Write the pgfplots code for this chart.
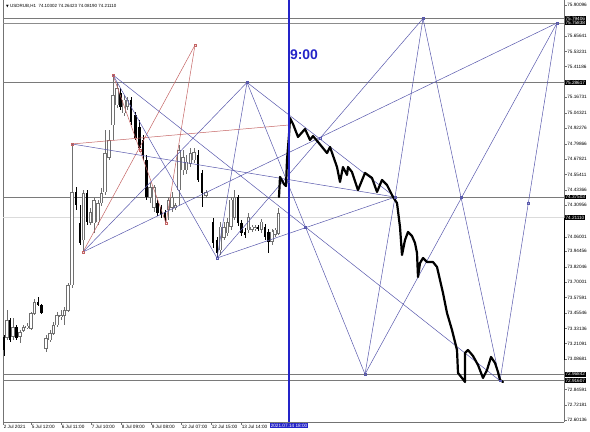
\documentclass[border=0pt]{standalone}
\usepackage{fontspec}
\setmainfont{Liberation Sans}
\newfontfamily\djv{DejaVu Sans}
\usepackage{pgfplots}
\usepackage{pgfplotstable}
\pgfplotsset{compat=1.18}
\definecolor{patblue}{HTML}{5858AC}
\definecolor{patred}{HTML}{C46464}
\definecolor{vblue}{HTML}{2424C8}
\definecolor{hgray}{HTML}{7A7A7A}
\definecolor{cgray}{HTML}{707070}
\newcommand\tl{\fontsize{4.7}{5}\selectfont}

% hourly candles: x (chart position), open, high, low, close
\pgfplotstableread{
x o h l c
7 73.264 73.478 73.240 73.399
13 73.264 73.415 73.240 73.343
20 73.264 73.319 73.216 73.303
23.5 73.319 73.359 73.303 73.343
27 73.335 73.375 73.327 73.351
31 73.335 73.462 73.319 73.454
34.5 73.454 73.566 73.438 73.542
46 73.176 73.280 73.144 73.256
50 73.240 73.319 73.224 73.295
53.5 73.295 73.383 73.280 73.359
57 73.359 73.462 73.343 73.438
61 73.423 73.478 73.399 73.438
64.5 73.438 73.502 73.359 73.478
68 73.478 73.693 73.462 73.677
72 73.677 74.797 73.653 74.415
83.5 74.034 74.431 73.939 74.407
90.5 74.177 74.289 74.154 74.257
94 74.169 74.368 74.090 74.352
98 74.177 74.352 74.154 74.328
101.5 74.328 74.447 74.304 74.407
105 74.415 74.908 74.391 74.725
109 74.694 74.908 74.670 74.829
113 74.948 75.345 74.829 75.186
117 75.107 75.289 75.083 75.242
124 75.043 75.186 75.019 75.147
127.5 75.091 75.170 75.067 75.147
150 74.376 74.487 74.328 74.455
154 74.296 74.471 74.257 74.455
168.5 74.273 74.376 74.193 74.352
172 74.289 74.415 74.257 74.376
175.5 74.289 74.328 74.273 74.312
179 74.431 74.789 74.312 74.749
183 74.590 74.749 74.550 74.693
186.5 74.590 74.709 74.558 74.654
190.5 74.646 74.765 74.614 74.725
194 74.670 74.765 74.646 74.733
206 74.391 74.431 74.368 74.415
220.5 73.955 74.177 73.915 74.138
224 74.058 74.177 74.034 74.138
227.5 74.090 74.209 74.066 74.177
231 74.138 74.376 74.114 74.352
234.5 74.217 74.431 74.193 74.376
248.5 74.114 74.249 74.090 74.217
252 74.114 74.154 74.098 74.138
255 74.122 74.154 74.106 74.138
261.5 74.114 74.201 74.090 74.177
272 74.019 74.122 73.995 74.098
275 74.074 74.130 74.058 74.114
278.5 74.090 74.288 74.074 74.249
}\bull
\pgfplotstableread{
x o h l c
4 73.264 73.280 73.112 73.160
10 73.399 73.415 73.224 73.240
16.5 73.343 73.359 73.240 73.256
38 73.542 73.582 73.510 73.518
41.5 73.518 73.526 73.446 73.454
76 74.415 74.455 74.273 74.312
80 74.169 74.312 73.995 74.010
87 74.407 74.431 74.154 74.177
120.5 75.202 75.242 75.067 75.091
131 75.147 75.170 74.948 74.972
135.5 75.027 75.051 74.829 74.845
139.5 74.932 74.988 74.733 74.765
143 74.829 74.868 74.670 74.709
146.5 74.670 74.709 74.352 74.376
157.5 74.328 74.352 74.225 74.249
161 74.296 74.312 74.209 74.233
165 74.257 74.273 74.169 74.209
198 74.709 74.749 74.495 74.511
202 74.566 74.590 74.296 74.407
213 74.177 74.209 73.971 74.010
217 74.034 74.058 73.891 73.931
238 74.376 74.391 74.146 74.169
241.5 74.169 74.193 74.066 74.090
245 74.098 74.130 74.050 74.074
258 74.138 74.154 74.106 74.122
265 74.138 74.161 74.034 74.058
268.5 74.098 74.122 73.931 74.019
}\bear

\pgfplotsset{
  pb/.style={patblue, line width=0.5bp, forget plot},
  pr/.style={patred, line width=0.5bp, forget plot},
  hl/.style={hgray, line width=0.6bp, forget plot},
  candle/.style={draw=none, mark=none, forget plot,
    error bars/.cd, y dir=both, y explicit, error mark=none, error bar style={#1}},
}
\tikzset{hi/.style={fill=black, text=white, font=\tl, inner sep=0.7bp, anchor=west, xshift=0.6bp}}

\begin{document}
\begin{tikzpicture}
\useasboundingbox (-3bp,-10bp) rectangle (587bp,422bp);
\begin{axis}[at={(0,0)}, anchor=south west, scale only axis,
  width=561bp, height=422bp,
  xmin=3, xmax=564, ymin=72.5882, ymax=75.941,
  axis x line*=bottom, axis y line*=right,
  axis line style={-, black!55, line width=0.5bp},
  tick style={black!55, line width=0.4bp}, major tick length=2.5bp, tick align=outside,
  xtick={3,31,61,91,121,151,181,211,241},
  xticklabels={2 Jul 2021,5 Jul 12:00,6 Jul 11:00,7 Jul 10:00,8 Jul 09:00,9 Jul 08:00,12 Jul 07:00,12 Jul 15:00,13 Jul 14:00},
  xticklabel style={font=\tl, anchor=north west, inner sep=0.6bp},
  ytick={75.90096,75.65641,75.53231,75.41186,75.16731,75.04321,74.92276,74.79866,74.67821,74.55411,74.43366,74.30956,74.06001,73.94456,73.82046,73.70001,73.57591,73.45546,73.33136,73.21091,73.08681,72.84591,72.72181,72.60136},
  yticklabels={75.90096,75.65641,75.53231,75.41186,75.16731,75.04321,74.92276,74.79866,74.67821,74.55411,74.43366,74.30956,74.06001,73.94456,73.82046,73.70001,73.57591,73.45546,73.33136,73.21091,73.08681,72.84591,72.72181,72.60136},
  yticklabel style={font=\tl, anchor=west, inner sep=0.6bp},
  clip=false]

\draw[black!55, line width=0.5bp] (rel axis cs:0,0) -- (rel axis cs:0,1);

% horizontal levels
\addplot[hl] coordinates {(3,75.79406)(564,75.79406)};
\addplot[black!45, line width=0.9bp, forget plot] coordinates {(3,75.75838)(564,75.75838)};
\addplot[hl] coordinates {(3,75.28617)(564,75.28617)};
\addplot[hl] coordinates {(3,74.37503)(564,74.37503)};
\addplot[black!14, line width=0.6bp, forget plot] coordinates {(3,74.21110)(564,74.21110)};
\addplot[hl] coordinates {(3,72.96842)(564,72.96842)};
\addplot[hl] coordinates {(3,72.91607)(564,72.91607)};

% wicks
\addplot[candle={draw=cgray, line width=0.6bp}]
  table[x=x, y expr={(\thisrow{h}+\thisrow{l})/2}, y error expr={(\thisrow{h}-\thisrow{l})/2}] {\bull};
\addplot[candle={draw=black, line width=0.6bp}]
  table[x=x, y expr={(\thisrow{h}+\thisrow{l})/2}, y error expr={(\thisrow{h}-\thisrow{l})/2}] {\bear};
% bodies
\addplot[candle={draw=cgray, line width=3.1bp}]
  table[x=x, y expr={(\thisrow{o}+\thisrow{c})/2}, y error expr={(\thisrow{c}-\thisrow{o})/2+0.003}] {\bull};
\addplot[candle={draw=white, line width=1.4bp}]
  table[x=x, y expr={(\thisrow{o}+\thisrow{c})/2}, y error expr={(\thisrow{c}-\thisrow{o})/2-0.004}] {\bull};
\addplot[candle={draw=black, line width=2.8bp}]
  table[x=x, y expr={(\thisrow{o}+\thisrow{c})/2}, y error expr={(\thisrow{o}-\thisrow{c})/2+0.002}] {\bear};

% red figure
\addplot[pr] coordinates {(83,73.939)(195,75.583)};
\addplot[pr] coordinates {(113,75.345)(166,74.169)};
\addplot[pr] coordinates {(166,74.169)(195,75.583)};
\addplot[pr] coordinates {(72,74.797)(289,74.948)};

% blue figure
\addplot[pb] coordinates {(113,75.345)(217,73.891)};
\addplot[pb] coordinates {(113,75.345)(500,72.91607)};
\addplot[pb] coordinates {(247,75.28617)(395,74.37503)};
\addplot[pb] coordinates {(247,75.28617)(217,73.891)};
\addplot[pb] coordinates {(247,75.28617)(83,73.939)};
\addplot[pb] coordinates {(247,75.28617)(365,72.96842)};
\addplot[pb] coordinates {(72,74.797)(395,74.37503)};
\addplot[pb] coordinates {(83,73.939)(557,75.75838)};
\addplot[pb] coordinates {(217,73.891)(423,75.79406)};
\addplot[pb] coordinates {(217,73.891)(395,74.37503)};
\addplot[pb] coordinates {(395,74.37503)(423,75.79406)};
\addplot[pb] coordinates {(395,74.37503)(365,72.96842)};
\addplot[pb] coordinates {(423,75.79406)(500,72.91607)};
\addplot[pb] coordinates {(557,75.75838)(500,72.91607)};
\addplot[pb] coordinates {(557,75.75838)(365,72.96842)};

% projected path
\addplot[black, line width=2.2bp, line join=round, line cap=round, forget plot] coordinates {
(279,74.376)(280,74.535)(284,74.479)(286,74.463)(287,74.670)(289,74.868)(290,75.003)
(293,74.956)(298,74.853)(305,74.916)(310,74.829)(313,74.860)(318,74.813)(327,74.725)
(330,74.773)(337,74.614)(340,74.495)(343,74.614)(347,74.551)(348,74.614)(352,74.574)
(358,74.431)(365,74.567)(372,74.527)(377,74.416)(382,74.511)(387,74.471)(393,74.376)
(397,74.328)(400,74.138)(402,73.915)(405,74.034)(408,74.098)(412,74.066)(415,74.010)
(417,73.931)(418,73.740)(420,73.851)(423,73.891)(427,73.859)(433,73.859)(437,73.820)
(440,73.716)(443,73.613)(447,73.454)(452,73.319)(457,73.160)(458,72.978)(462,72.938)
(465,72.906)(465,73.136)(468,73.160)(473,73.113)(478,73.041)(483,72.938)(487,73.001)
(491,73.105)(495,73.057)(498,72.985)(500,72.922)(503,72.906)};

% vertical time line
\addplot[vblue, line width=1.8bp, forget plot] coordinates {(289,72.5882)(289,75.941)};

% points
\addplot[only marks, mark=square, mark size=0.9bp, patred, forget plot] coordinates {
(113,75.345)(72,74.797)(83,73.939)(195,75.583)(166,74.169)(140,74.749)};
\addplot[only marks, mark=square, mark size=0.9bp, patblue, forget plot] coordinates {
(247,75.28617)(217,73.891)(395,74.37503)(423,75.79406)(557,75.75838)(365,72.96842)(500,72.91607)
(288,74.503)(320,74.845)(305,74.138)(461,74.375)(528,74.328)};

% texts
\node[anchor=west, xshift=3bp, yshift=-6bp, inner sep=0, font=\fontsize{4.5}{5}\selectfont]
  at (rel axis cs:0,1) {{\djv\fontsize{3.5}{4}\selectfont ▼}\ USDRUB,H1\ \ 74.10302 74.26423 74.08190 74.21110};
\node[text=vblue, font=\bfseries\fontsize{14}{14}\selectfont] at (axis cs:304,75.504) {9:00};
\node[fill=vblue, text=white, font=\tl, inner sep=0.8bp, anchor=north, yshift=-0.8bp]
  at (axis cs:289,72.5882) {2021.07.14 18:00};
\draw[black, line width=1.2bp] (axis cs:564.5,74.209) -- (axis cs:564.5,73.081);
\node[hi] at (axis cs:564,75.79406) {75.79406};
\node[hi] at (axis cs:564,75.75838) {75.75838};
\node[hi] at (axis cs:564,75.28617) {75.28617};
\node[hi] at (axis cs:564,74.37503) {74.37503};
\node[hi] at (axis cs:564,74.21110) {74.21110};
\node[hi] at (axis cs:564,72.96842) {72.96842};
\node[hi] at (axis cs:564,72.91607) {72.91607};
\end{axis}
\end{tikzpicture}
\end{document}
